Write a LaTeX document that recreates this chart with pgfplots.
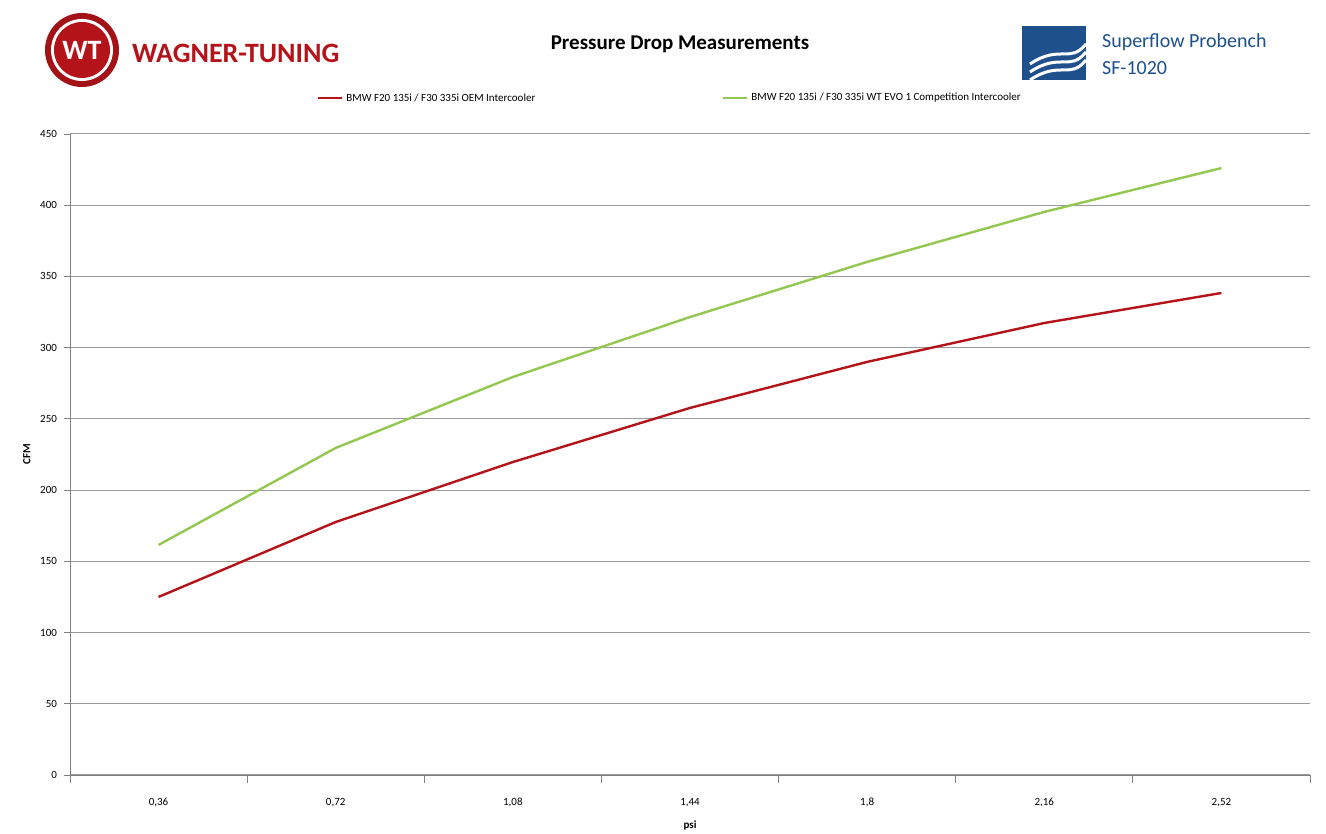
\documentclass[border=0pt]{standalone}
\usepackage{pgfplots}
\pgfplotsset{compat=1.18}
\usepackage{fontspec}
\setmainfont{Carlito}
\definecolor{oem}{RGB}{180,20,25}
\definecolor{evo}{RGB}{146,200,80}
\definecolor{sfblue}{RGB}{30,80,140}
\begin{document}
\begin{tikzpicture}[x=0.5pt,y=0.5pt]
\path[fill=white] (0,0) rectangle (1326,834);
\fill[oem!90!black] (82,784) circle (37);
\fill[white] (82,784) circle (31);
\fill[oem] (82,784) circle (28);
\node[white,font=\bfseries\fontsize{14}{14}\selectfont] at (82,784) {WT};
\node[anchor=west,oem,font=\bfseries\fontsize{14}{14}\selectfont] at (125,781) {WAGNER-TUNING};
\node[font=\bfseries\fontsize{10.5}{10.5}\selectfont] at (680,790) {Pressure Drop Measurements};
\fill[sfblue] (1022,754) rectangle (1086,808);
\foreach \o in {0,8,16}{\draw[white,line width=1.5pt] (1030,770-\o) .. controls (1060,790-\o) and (1070,770-\o) .. (1086,790-\o);}
\node[anchor=west,sfblue,font=\fontsize{10}{10}\selectfont] at (1095,792) {Superflow Probench};
\node[anchor=west,sfblue,font=\fontsize{10}{10}\selectfont] at (1095,766) {SF-1020};
\draw[oem,line width=1.2pt] (318,736) -- (342,736);
\node[anchor=west,font=\fontsize{5.5}{6}\selectfont,inner sep=0] at (346,736) {BMW F20 135i / F30 335i OEM Intercooler};
\draw[evo,line width=1.2pt] (723,736) -- (747,736);
\node[anchor=west,font=\fontsize{5.5}{6}\selectfont,inner sep=0] at (751,736) {BMW F20 135i / F30 335i WT EVO 1 Competition Intercooler};
\begin{axis}[at={(35pt,29.5pt)},anchor=south west,scale only axis,
 width=620pt,height=320.5pt,
 xmin=-0.5,xmax=6.5,ymin=0,ymax=450,
 xtick={0,...,6},xticklabels={0{,}36,0{,}72,1{,}08,1{,}44,1{,}8,2{,}16,2{,}52},
 minor xtick={-0.5,0.5,...,6.5},
 ytick={0,50,...,450},
 major x tick style={draw=none},
 minor tick length=4pt,
 tick style={gray,thin},
 ymajorgrids, grid style={gray!80,line width=0.5pt},
 axis x line*=bottom, axis y line*=left,
 axis line style={gray,-},
 y tick style={gray}, major tick length=3pt,
 tick align=outside,
 ticklabel style={font=\fontsize{5.5}{6}\selectfont},
 /pgf/number format/assume math mode=true,
 xticklabel style={yshift=-5pt},
 xlabel={psi},ylabel={CFM},
 label style={font=\bfseries\fontsize{5.5}{6}\selectfont},
 xlabel style={yshift=0pt},
 ylabel style={yshift=-2pt},
]
\addplot[oem,line width=1.2pt] coordinates {(0,125)(1,177.6)(2,219.7)(3,257.7)(4,290)(5,317.3)(6,338.4)};
\addplot[evo,line width=1.2pt] coordinates {(0,161.5)(1,229.6)(2,279.4)(3,321.5)(4,360.2)(5,395.3)(6,426.1)};
\end{axis}
\pgfresetboundingbox
\useasboundingbox (0,0) rectangle (1326,834);
\end{tikzpicture}
\end{document}
